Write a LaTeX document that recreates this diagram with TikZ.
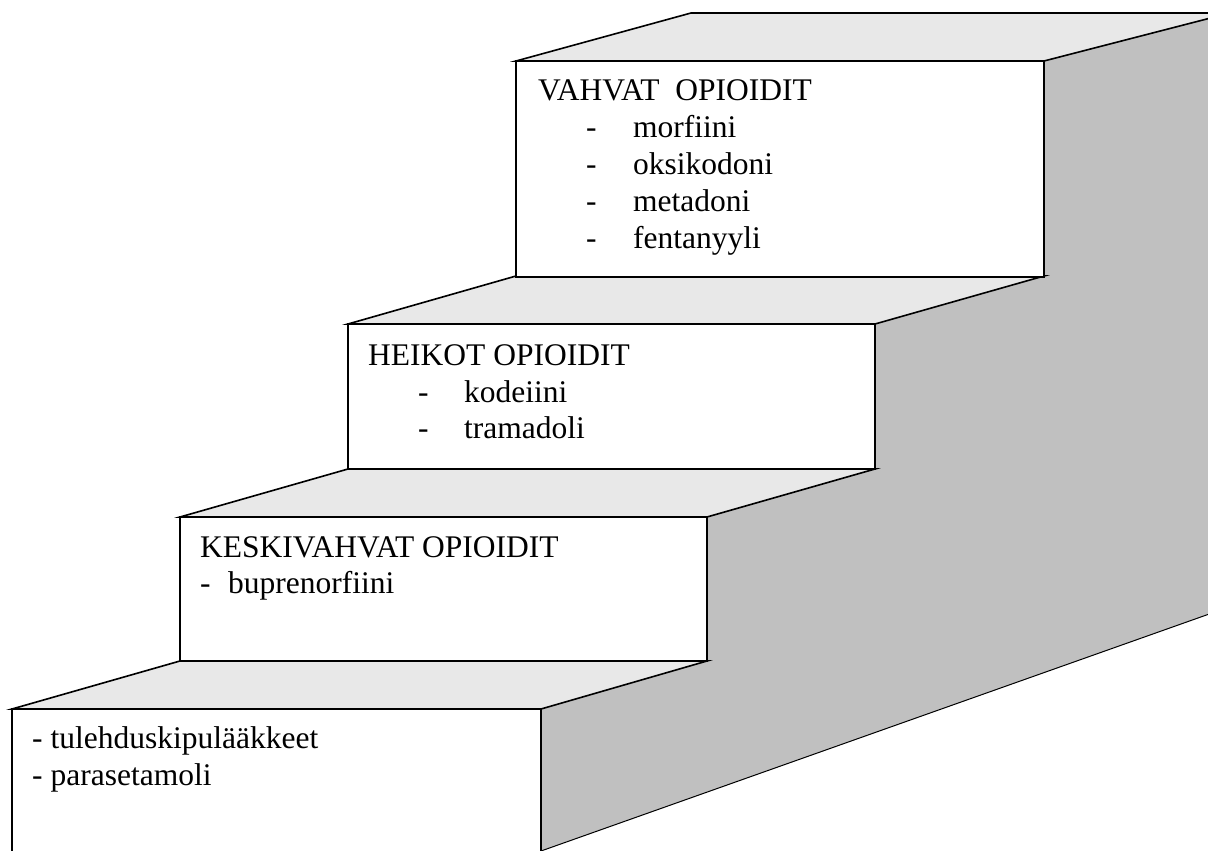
\documentclass[tikz,border=0pt]{standalone}
\usepackage{fontspec}
\setmainfont{Liberation Serif}
\definecolor{topface}{gray}{0.91}
\definecolor{sideface}{gray}{0.753}
\tikzset{
  tread/.style={fill=topface, draw=black, line width=1.6pt, line join=miter},
  riser/.style={fill=white, draw=black, line width=2.2pt},
  lbl/.style={anchor=base west, inner sep=0pt, font=\fontsize{31.5}{37}\selectfont},
}
\begin{document}
\begin{tikzpicture}[x=1pt,y=-1pt]
\useasboundingbox (0,0) rectangle (1208,851);
\clip (0,0) rectangle (1208,851);
% side face of the staircase
\fill[sideface] (541,851) -- (541,709) -- (707,661) -- (707,517) -- (875,469) -- (875,324)
  -- (1044,276) -- (1044,61) -- (1220,13) -- (1260,13) -- (1260,596) -- cycle;
\draw[line width=1pt] (541,851) -- (1260,596);
% treads
\draw[tread] (12,709) -- (180,661) -- (707,661) -- (541,709) -- cycle;
\draw[tread] (180,517) -- (348,469) -- (875,469) -- (707,517) -- cycle;
\draw[tread] (348,324) -- (516,276) -- (1044,276) -- (875,324) -- cycle;
\draw[tread] (516,61) -- (691,13) -- (1230,13) -- (1044,61) -- cycle;
% risers
\draw[riser] (12,709) rectangle (541,880);
\draw[riser] (180,517) rectangle (707,661);
\draw[riser] (348,324) rectangle (875,469);
\draw[riser] (516,61) rectangle (1044,277);
% step 1
\node[lbl] (s1a) at (32,748) {- tulehduskipulääkkeet};
\node[lbl] (s1b) at (32,785) {- parasetamoli};
% step 2
\node[lbl] (s2t) at (200,557) {KESKIVAHVAT OPIOIDIT};
\node[lbl] (s2d) at (200,593) {-};
\node[lbl] (s2a) at (228,593) {buprenorfiini};
% step 3
\node[lbl] (s3t) at (368,365) {HEIKOT OPIOIDIT};
\node[lbl] (s3d1) at (418,402) {-};
\node[lbl] (s3a) at (464,402) {kodeiini};
\node[lbl] (s3d2) at (418,438) {-};
\node[lbl] (s3b) at (464,438) {tramadoli};
% step 4
\node[lbl] (s4t) at (538,100) {VAHVAT\ \ OPIOIDIT};
\node[lbl] (s4d1) at (586,137) {-};
\node[lbl] (s4a) at (633,137) {morfiini};
\node[lbl] (s4d2) at (586,174) {-};
\node[lbl] (s4b) at (633,174) {oksikodoni};
\node[lbl] (s4d3) at (586,211) {-};
\node[lbl] (s4c) at (633,211) {metadoni};
\node[lbl] (s4d4) at (586,248) {-};
\node[lbl] (s4e) at (633,248) {fentanyyli};
\end{tikzpicture}
\end{document}
